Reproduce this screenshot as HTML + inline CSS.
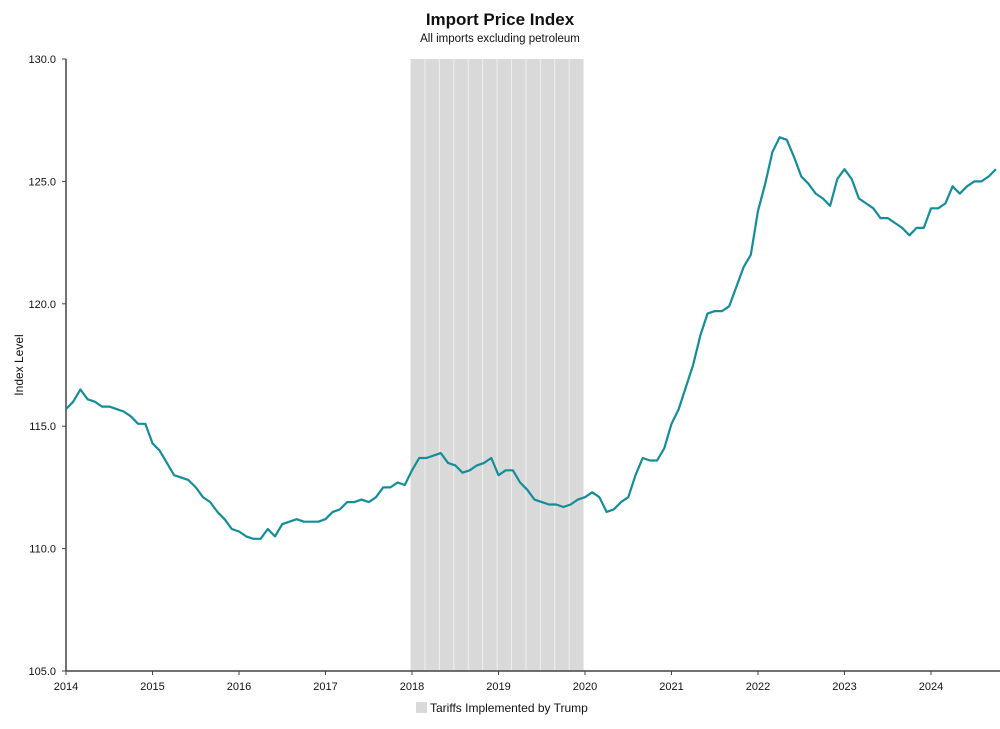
<!DOCTYPE html>
<html><head><meta charset="utf-8"><style>
body{margin:0;background:#fff;font-family:"Liberation Sans",sans-serif;}
svg text{font-family:"Liberation Sans",sans-serif;fill:#111;}
</style></head><body>
<svg width="1000" height="724" viewBox="0 0 1000 724">
<text x="500" y="25" text-anchor="middle" font-size="17" font-weight="bold">Import Price Index</text>
<text x="500" y="42" text-anchor="middle" font-size="11.5">All imports excluding petroleum</text>
<g id="shade"></g>
<g id="grid"></g>
<line x1="66" y1="59" x2="66" y2="671" stroke="#444" stroke-width="1.5"/>
<line x1="66" y1="671" x2="1000" y2="671" stroke="#444" stroke-width="1.5"/>
<g id="yticks"></g><g id="xticks"></g>
<text transform="translate(23,365) rotate(-90)" text-anchor="middle" font-size="12">Index Level</text>
<polyline id="line" fill="none" stroke="#138d99" stroke-width="2.2" stroke-linejoin="round"/>
<g>
<rect x="416" y="702" width="11" height="11" fill="#d9d9d9"/>
<text x="430" y="712" font-size="12" fill="#333">Tariffs Implemented by Trump</text>
</g>
</svg>
<script>
const startYear = 2014;
const values = [
115.7,116.0,116.5,116.1,116.0,115.8,115.8,115.7,115.6,115.4,115.1,115.1,
114.3,114.0,113.5,113.0,112.9,112.8,112.5,112.1,111.9,111.5,111.2,110.8,
110.7,110.5,110.4,110.4,110.8,110.5,111.0,111.1,111.2,111.1,111.1,111.1,
111.2,111.5,111.6,111.9,111.9,112.0,111.9,112.1,112.5,112.5,112.7,112.6,
113.2,113.7,113.7,113.8,113.9,113.5,113.4,113.1,113.2,113.4,113.5,113.7,
113.0,113.2,113.2,112.7,112.4,112.0,111.9,111.8,111.8,111.7,111.8,112.0,
112.1,112.3,112.1,111.5,111.6,111.9,112.1,113.0,113.7,113.6,113.6,114.1,
115.1,115.7,116.6,117.5,118.7,119.6,119.7,119.7,119.9,120.7,121.5,122.0,
123.8,124.9,126.2,126.8,126.7,126.0,125.2,124.9,124.5,124.3,124.0,125.1,
125.5,125.1,124.3,124.1,123.9,123.5,123.5,123.3,123.1,122.8,123.1,123.1,
123.9,123.9,124.1,124.8,124.5,124.8,125.0,125.0,125.2,125.5];
const yTicks = [105,110,115,120,125,130];
const xTickYears = [2014,2015,2016,2017,2018,2019,2020,2021,2022,2023,2024];
const shadeStartMonth = 47.8, shadeEndMonth = 71.8;
const NS="http://www.w3.org/2000/svg";
const x0=66, pxPerMonth=(931-66)/120;
function xScale(m){return x0+m*pxPerMonth;}
function yScale(v){return 671-(v-105)*(671-59)/25;}
function mk(tag,attrs,parent){const e=document.createElementNS(NS,tag);for(const k in attrs)e.setAttribute(k,attrs[k]);parent.appendChild(e);return e;}
const shade=document.getElementById('shade');
const r=mk('rect',{x:xScale(shadeStartMonth),y:59,width:xScale(shadeEndMonth)-xScale(shadeStartMonth),height:612,fill:'#d9d9d9'},shade);


for(let m=shadeStartMonth+2;m<shadeEndMonth;m+=2){
 const l=mk('line',{x1:xScale(m),x2:xScale(m),y1:59,y2:671,stroke:'#efefef','stroke-width':1},shade);
 
 
}
const yt=document.getElementById('yticks');
yTicks.forEach(v=>{
 const t=mk('line',{x1:62,x2:66,y1:yScale(v),y2:yScale(v),stroke:'#444'},yt);
 
 
 const tx=mk('text',{x:56,y:yScale(v)+4,'text-anchor':'end','font-size':11},yt);
 tx.textContent=v.toFixed(1);
 
 
});
const xt=document.getElementById('xticks');
xTickYears.forEach(y=>{
 const x=xScale((y-startYear)*12);
 const t=mk('line',{x1:x,x2:x,y1:671,y2:675,stroke:'#444'},xt);
 
 
 const tx=mk('text',{x:x,y:690,'text-anchor':'middle','font-size':11},xt);
 tx.textContent=y;
 
 
});
document.getElementById('line').setAttribute('points',values.map((v,i)=>xScale(i).toFixed(1)+','+yScale(v).toFixed(1)).join(' '));
</script>
</body></html>
